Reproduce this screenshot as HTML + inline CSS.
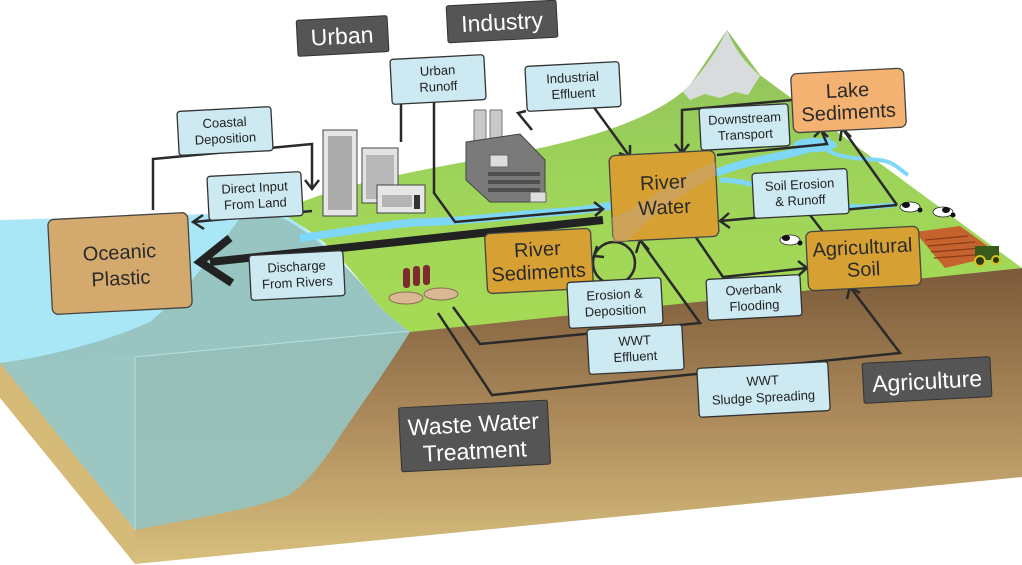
<!DOCTYPE html>
<html><head><meta charset="utf-8"><style>
html,body{margin:0;padding:0;background:#fff;width:1022px;height:565px;overflow:hidden}
svg{display:block}
text{font-family:"Liberation Sans",sans-serif}
.lb{fill:#cde9f1;stroke:#333;stroke-width:1.3}
.lt{font-size:13px;fill:#222;text-anchor:middle}
.bt{font-size:20px;fill:#2a2a2a;text-anchor:middle}
.dk{fill:#555;stroke:#333;stroke-width:1}
.dt{fill:#fff;text-anchor:middle}
.c{fill:none;stroke:#2a2a2a;stroke-width:2.5;stroke-linejoin:miter}
.ah{fill:none;stroke:#2a2a2a;stroke-width:2.5}
</style></head><body>
<svg width="1022" height="565" viewBox="0 0 1022 565" xmlns="http://www.w3.org/2000/svg">
<defs>
<linearGradient id="brown" x1="0" y1="0" x2="0" y2="1">
<stop offset="0" stop-color="#7b5a3a"/><stop offset="0.55" stop-color="#b08e5e"/><stop offset="1" stop-color="#d8c07e"/>
</linearGradient>
<linearGradient id="green" x1="0" y1="0" x2="0" y2="1">
<stop offset="0" stop-color="#8fbf5c"/><stop offset="0.5" stop-color="#9ed45a"/><stop offset="1" stop-color="#a6da55"/>
</linearGradient>
</defs>
<polygon points="0,362 135,530 135,564 0,398" fill="#d6bb78"/>
<polygon points="135,357 1022,268 1022,477 135,564" fill="url(#brown)"/>
<polygon points="0,220 280,212 300,225 320,240 345,265 367,290 383,313 410,332 135,357 0,363" fill="#a9e7f7"/>
<path d="M240,218 C255,214 275,213 290,222 C320,240 345,265 367,290 C380,310 395,320 410,332 C380,380 350,420 333,447 C310,480 290,497 283,497 C250,510 200,517 135,530 L0,363 C40,358 100,344 150,322 C183,295 217,250 240,218 Z" fill="#97c3bf" opacity="0.95"/>
<line x1="135" y1="357" x2="410" y2="331" stroke="#b5e0e0" stroke-width="1"/>
<line x1="135" y1="357" x2="135" y2="530" stroke="#b5e0e0" stroke-width="1"/>
<path d="M280,212 C330,185 420,170 520,152 C600,137 660,115 690,85 L727,30 L760,75 L1022,268 L410,332 C395,320 383,313 367,290 C345,262 325,240 300,225 Z" fill="url(#green)"/>
<path d="M683,92 C700,75 715,55 727,30 C735,50 745,62 760,76 L748,95 L735,92 L720,98 L705,94 L690,100 Z" fill="#d8dcdc"/>
<path d="M300,238 C360,230 400,222 430,222 C480,220 520,214 560,212 C590,210 620,205 650,196 C690,185 720,168 760,160 C790,154 810,150 830,140" fill="none" stroke="#7fd7f7" stroke-width="8"/>
<path d="M720,180 C760,180 800,205 860,207 C880,207 890,205 895,205" fill="none" stroke="#7fd7f7" stroke-width="5"/>
<path d="M816,140 C830,160 860,158 880,160 C895,162 900,170 908,175" fill="none" stroke="#7fd7f7" stroke-width="4"/>
<ellipse cx="815" cy="145" rx="22" ry="7" fill="#7fd7f7"/>
<polygon points="915,232 960,226 1000,255 945,268" fill="#c5632e"/>
<g stroke="#8a3a18" stroke-width="1.2"><line x1="925" y1="240" x2="968" y2="236"/><line x1="928" y1="246" x2="975" y2="242"/><line x1="931" y1="252" x2="982" y2="248"/><line x1="934" y1="258" x2="988" y2="254"/></g>
<rect x="975" y="246" width="24" height="14" fill="#3a5a1a"/><circle cx="980" cy="261" r="5" fill="#2a3a10" stroke="#d8c020" stroke-width="2"/><circle cx="996" cy="260" r="4" fill="#2a3a10" stroke="#d8c020" stroke-width="2"/>
<g fill="#fff" stroke="#222" stroke-width="0.8"><ellipse cx="910" cy="207" rx="10" ry="5"/><ellipse cx="943" cy="212" rx="10" ry="5"/><ellipse cx="790" cy="240" rx="10" ry="5"/></g>
<g fill="#111"><ellipse cx="906" cy="205" rx="4" ry="3"/><ellipse cx="946" cy="210" rx="4" ry="3"/><ellipse cx="786" cy="238" rx="4" ry="3"/><circle cx="920" cy="210" r="2.5"/><circle cx="953" cy="215" r="2.5"/><circle cx="800" cy="243" r="2.5"/></g>
<g fill="#7e2a30"><rect x="403" y="268" width="7" height="20" rx="3"/><rect x="413" y="266" width="7" height="20" rx="3"/><rect x="423" y="265" width="7" height="20" rx="3"/></g>
<ellipse cx="406" cy="298" rx="17" ry="6" fill="#d9b893" stroke="#8a7055"/>
<ellipse cx="441" cy="294" rx="17" ry="6" fill="#d9b893" stroke="#8a7055"/>
<rect x="323" y="130" width="34" height="86" fill="#e6e6e6" stroke="#444"/>
<rect x="328" y="136" width="24" height="74" fill="#666" opacity="0.45"/>
<rect x="362" y="148" width="36" height="55" fill="#e3e3e3" stroke="#444"/>
<rect x="366" y="155" width="28" height="44" fill="#777" opacity="0.4"/>
<rect x="377" y="185" width="48" height="28" fill="#e6e6e6" stroke="#444"/>
<rect x="382" y="195" width="30" height="12" fill="#777" opacity="0.45"/><rect x="414" y="195" width="6" height="14" fill="#333"/>
<rect x="474" y="110" width="12" height="35" fill="#c8c8c8" stroke="#777"/><rect x="490" y="110" width="12" height="35" fill="#c8c8c8" stroke="#777"/>
<polygon points="466,142 520,134 545,160 545,202 490,202 466,180" fill="#7a7a7a" stroke="#444"/>
<rect x="490" y="155" width="18" height="12" fill="#ddd" stroke="#666"/>
<rect x="530" y="192" width="16" height="10" fill="#ddd" stroke="#666"/>
<g fill="#333" opacity="0.6"><rect x="488" y="172" width="52" height="4"/><rect x="488" y="180" width="52" height="4"/><rect x="488" y="188" width="52" height="4"/></g>

<polyline class="c" points="153,210 153,159 312,144 312,188"/><polyline class="ah" points="305,180 312,189 319,180"/>
<polyline class="c" points="312,211 193,222"/><polyline class="ah" points="203,215 193,222 204,229"/>
<line class="c" x1="401" y1="100" x2="401" y2="142"/>
<polyline class="c" points="434,100 434,193 455,222 603,209"/><polyline class="ah" points="594,202 603,209 595,216"/>
<polyline class="c" points="526,111 518,113 532,130"/>
<polyline class="c" points="593,106 630,157"/><polyline class="ah" points="619,153 630,157 630,145"/>
<line x1="603" y1="220" x2="210" y2="262" stroke="#222" stroke-width="8"/>
<polyline points="230,238 200,262 232,283" fill="none" stroke="#222" stroke-width="8"/>
<circle cx="614" cy="263" r="21" fill="none" stroke="#2a2a2a" stroke-width="2.5"/><polyline class="ah" points="597,246 594,256 604,257"/>
<polyline class="c" points="453,307 480,344 700,323 640,240"/><polyline class="ah" points="636,253 640,240 649,250"/>
<polyline class="c" points="438,313 492,395 900,353 850,287"/><polyline class="ah" points="847,299 850,287 860,293"/>
<polyline class="c" points="693,233 723,277 807,268"/><polyline class="ah" points="798,261 807,268 799,275"/>
<polyline class="c" points="897,205 720,221"/><polyline class="ah" points="729,213 720,221 730,228"/>
<line class="c" x1="810" y1="215" x2="827" y2="237"/>
<polyline class="c" points="897,205 842,128"/><polyline class="ah" points="840,141 842,128 851,137"/>
<polyline class="c" points="792,100 682,110 682,153"/><polyline class="ah" points="675,144 682,153 689,144"/>
<polyline class="c" points="717,155 827,144 822,132"/><polyline class="ah" points="814,137 821,130 828,137"/>

<g transform="rotate(-3 342 35)"><rect class="dk" x="297" y="18" width="91" height="36" rx="2"/><text class="dt" x="342" y="44" font-size="23">Urban</text></g>
<g transform="rotate(-3 502 21)"><rect class="dk" x="447" y="3" width="110" height="37" rx="2"/><text class="dt" x="502" y="30" font-size="23">Industry</text></g>
<g transform="rotate(-3 927 380)"><rect class="dk" x="863" y="360" width="128" height="40" rx="2"/><text class="dt" x="927" y="389" font-size="23">Agriculture</text></g>
<g transform="rotate(-3 474 436)"><rect class="dk" x="400" y="404" width="149" height="64" rx="2"/><text class="dt" x="474" y="432" font-size="23">Waste Water</text><text class="dt" x="474" y="459" font-size="23">Treatment</text></g>

<g transform="rotate(-3 120 263)"><rect x="50" y="216" width="140" height="95" rx="6" fill="#d4a96e" stroke="#444" stroke-width="1.3"/><text class="bt" x="120" y="259" font-size="22">Oceanic</text><text class="bt" x="120" y="285" font-size="22">Plastic</text></g>
<g transform="rotate(-3 538 261)"><rect x="486" y="231" width="106" height="60" rx="5" fill="#d6a033" stroke="#444" stroke-width="1.3"/><text class="bt" x="538" y="256">River</text><text class="bt" x="538" y="279">Sediments</text></g>
<g transform="rotate(-3 664 196)"><rect x="611" y="153" width="106" height="86" rx="6" fill="#d6a033" stroke="#444" stroke-width="1.3"/><path d="M611,215 C640,205 660,190 700,170 L717,165 L717,178 C680,195 650,215 625,239 L611,239 Z" fill="#c9a26a" opacity="0.7"/><text class="bt" x="664" y="189">River</text><text class="bt" x="664" y="214">Water</text></g>
<g transform="rotate(-3 848 100)"><rect x="792" y="71" width="113" height="59" rx="6" fill="#f3b271" stroke="#444" stroke-width="1.3"/><text class="bt" x="848" y="97">Lake</text><text class="bt" x="848" y="119">Sediments</text></g>
<g transform="rotate(-3 863 258)"><rect x="807" y="229" width="113" height="59" rx="6" fill="#d6a033" stroke="#444" stroke-width="1.3"/><text class="bt" x="863" y="254" font-size="18">Agricultural</text><text class="bt" x="863" y="276" font-size="18">Soil</text></g>

<g transform="rotate(-3 225 131)"><rect class="lb" x="178" y="109" width="94" height="44" rx="3"/><text class="lt" x="225" y="127">Coastal</text><text class="lt" x="225" y="143">Deposition</text></g>
<g transform="rotate(-3 255 196)"><rect class="lb" x="208" y="174" width="94" height="44" rx="3"/><text class="lt" x="255" y="192">Direct Input</text><text class="lt" x="255" y="208">From Land</text></g>
<g transform="rotate(-3 438 79)"><rect class="lb" x="391" y="57" width="94" height="45" rx="3"/><text class="lt" x="438" y="75">Urban</text><text class="lt" x="438" y="91">Runoff</text></g>
<g transform="rotate(-3 573 86)"><rect class="lb" x="526" y="64" width="94" height="45" rx="3"/><text class="lt" x="573" y="82">Industrial</text><text class="lt" x="573" y="98">Effluent</text></g>
<g transform="rotate(-3 297 275)"><rect class="lb" x="250" y="253" width="94" height="45" rx="3"/><text class="lt" x="297" y="271">Discharge</text><text class="lt" x="297" y="287">From Rivers</text></g>
<g transform="rotate(-3 745 127)"><rect class="lb" x="700" y="106" width="89" height="42" rx="3"/><text class="lt" x="745" y="123">Downstream</text><text class="lt" x="745" y="139">Transport</text></g>
<g transform="rotate(-3 800 193)"><rect class="lb" x="753" y="171" width="95" height="45" rx="3"/><text class="lt" x="800" y="189">Soil Erosion</text><text class="lt" x="800" y="205">&amp; Runoff</text></g>
<g transform="rotate(-3 754 297)"><rect class="lb" x="707" y="277" width="94" height="41" rx="3"/><text class="lt" x="754" y="294">Overbank</text><text class="lt" x="754" y="310">Flooding</text></g>
<g transform="rotate(-3 615 303)"><rect class="lb" x="568" y="280" width="94" height="46" rx="3"/><text class="lt" x="615" y="299">Erosion &amp;</text><text class="lt" x="615" y="315">Deposition</text></g>
<g transform="rotate(-3 635 349)"><rect class="lb" x="588" y="327" width="95" height="45" rx="3"/><text class="lt" x="635" y="345">WWT</text><text class="lt" x="635" y="361">Effluent</text></g>
<g transform="rotate(-3 763 389)"><rect class="lb" x="698" y="365" width="131" height="49" rx="3"/><text class="lt" x="763" y="385">WWT</text><text class="lt" x="763" y="402">Sludge Spreading</text></g>
</svg>
</body></html>
